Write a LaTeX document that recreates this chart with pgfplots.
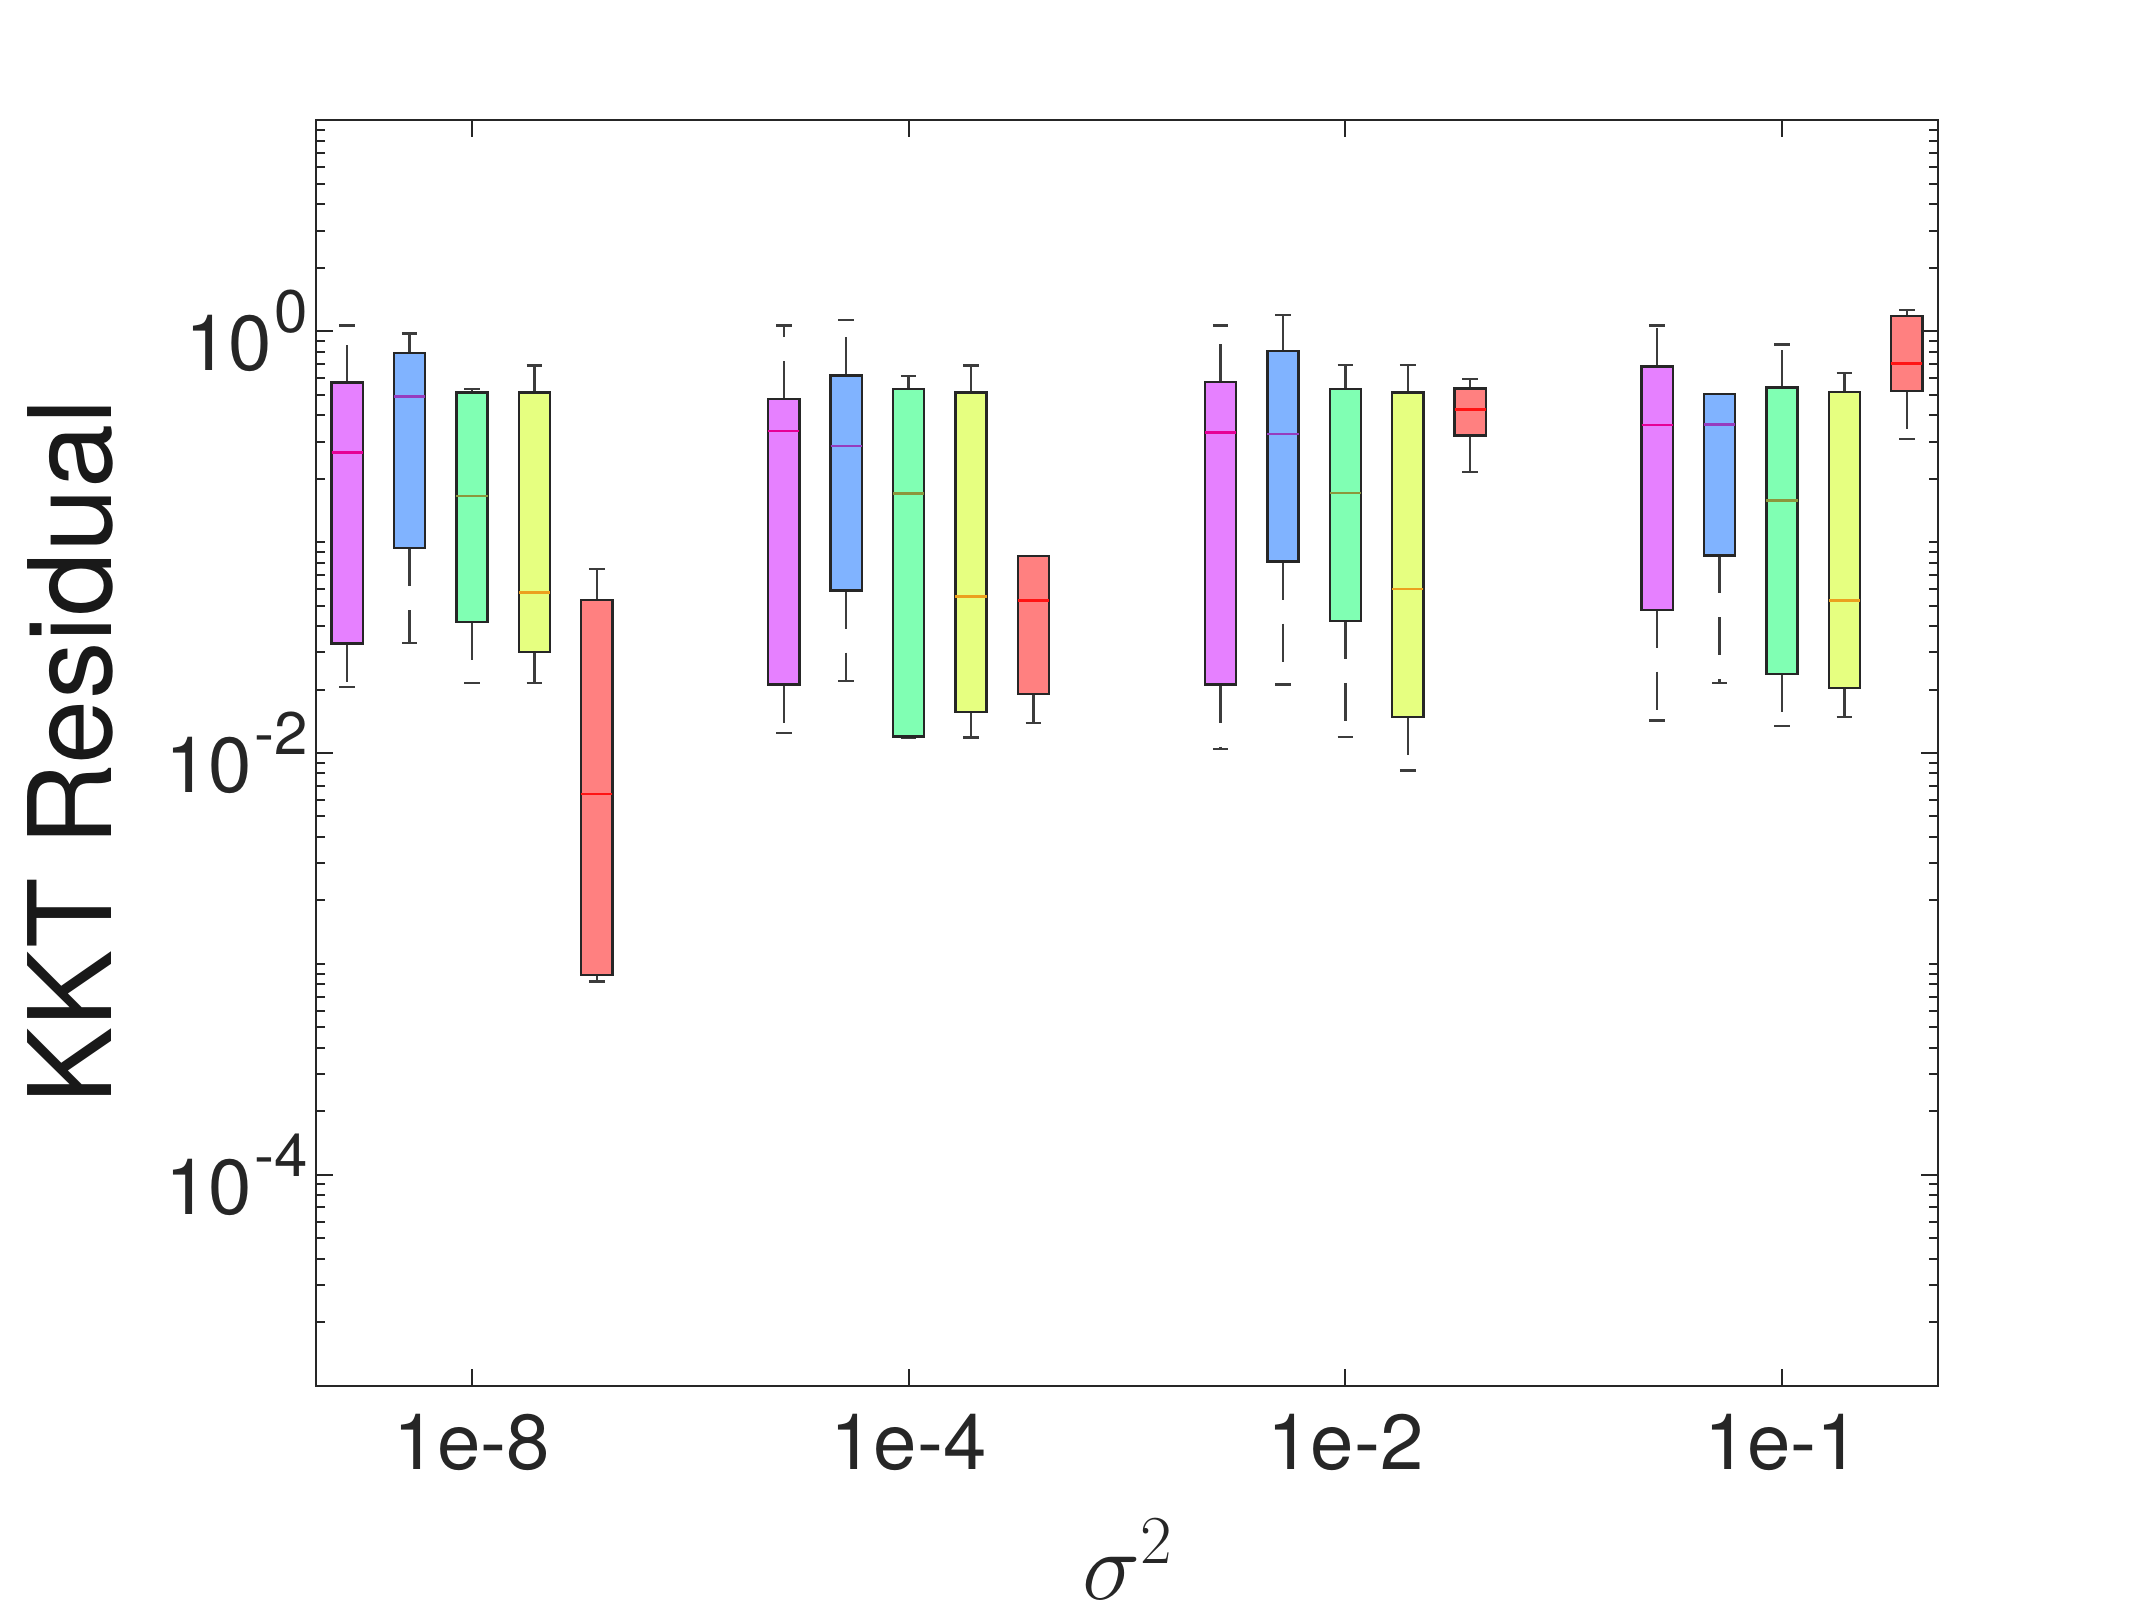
\RequirePackage{fix-cm}
\documentclass[border=0pt]{standalone}
\usepackage{pgfplots}
\pgfplotsset{compat=1.18}
\usepgfplotslibrary{statistics}
\usepackage{fontspec}
\setmainfont{TeX Gyre Heros}
\definecolor{axisgray}{RGB}{38,38,38}
\definecolor{c1}{RGB}{230,128,255}
\definecolor{c2}{RGB}{128,179,255}
\definecolor{c3}{RGB}{128,255,179}
\definecolor{c4}{RGB}{230,255,128}
\definecolor{c5}{RGB}{255,128,128}
\definecolor{m1}{RGB}{230,0,150}
\definecolor{m2}{RGB}{150,60,190}
\definecolor{m3}{RGB}{140,150,60}
\definecolor{m4}{RGB}{235,160,30}
\definecolor{m5}{RGB}{255,20,20}
\newcommand{\sups}[1]{\hspace{0.6pt}\raisebox{9.5pt}{\fontsize{15}{17}\selectfont #1}}
\pgfplotsset{
  boxplot/draw/lower whisker/.code={%
    \draw[/pgfplots/boxplot/every whisker/.try, dash pattern=on 9.5pt off 6pt]
      (boxplot cs:\pgfplotsboxplotvalue{lower quartile}) -- (boxplot cs:\pgfplotsboxplotvalue{lower whisker});
    \draw[/pgfplots/boxplot/every whisker/.try, solid]
      (boxplot whisker cs:\pgfplotsboxplotvalue{lower whisker},0) -- (boxplot whisker cs:\pgfplotsboxplotvalue{lower whisker},1);
  },
  boxplot/draw/upper whisker/.code={%
    \draw[/pgfplots/boxplot/every whisker/.try, dash pattern=on 9.5pt off 6pt]
      (boxplot cs:\pgfplotsboxplotvalue{upper quartile}) -- (boxplot cs:\pgfplotsboxplotvalue{upper whisker});
    \draw[/pgfplots/boxplot/every whisker/.try, solid]
      (boxplot whisker cs:\pgfplotsboxplotvalue{upper whisker},0) -- (boxplot whisker cs:\pgfplotsboxplotvalue{upper whisker},1);
  },
  bxbase/.style={draw=axisgray, line width=0.6pt, solid, mark=none,
    boxplot/draw direction=y,
    boxplot/every whisker/.style={draw=axisgray!90, line width=0.6pt, fill=none}},
  bx1/.style={bxbase, fill=c1, boxplot/every median/.style={draw=m1, line width=0.6pt}},
  bx2/.style={bxbase, fill=c2, boxplot/every median/.style={draw=m2, line width=0.6pt}},
  bx3/.style={bxbase, fill=c3, boxplot/every median/.style={draw=m3, line width=0.6pt}},
  bx4/.style={bxbase, fill=c4, boxplot/every median/.style={draw=m4, line width=0.6pt}},
  bx5/.style={bxbase, fill=c5, boxplot/every median/.style={draw=m5, line width=0.7pt}},
}
\newcommand{\bx}[7]{\addplot[bx#7, boxplot prepared={draw position=#1, lower whisker=#2, lower quartile=#3, median=#4, upper quartile=#5, upper whisker=#6, box extend=0.0714, whisker extend=0.0357}] coordinates {};}
\begin{document}
\begin{tikzpicture}
\begin{axis}[
  scale only axis, width=405.5pt, height=316.3pt,
  ymode=log, ymin=1e-5, ymax=10,
  xmin=0.642857, xmax=4.357143,
  boxplot/draw direction=y,
  xtick={1,2,3,4}, xticklabels={1e-8,1e-4,1e-2,1e-1},
  ytick={1e-4,1e-2,1}, yticklabels={10\sups{-4},10\sups{-2},10\sups{0}},
  minor ytick={2e-5,3e-5,4e-5,5e-5,6e-5,7e-5,8e-5,9e-5,
    2e-4,3e-4,4e-4,5e-4,6e-4,7e-4,8e-4,9e-4,1e-3,
    2e-3,3e-3,4e-3,5e-3,6e-3,7e-3,8e-3,9e-3,
    2e-2,3e-2,4e-2,5e-2,6e-2,7e-2,8e-2,9e-2,1e-1,
    2e-1,3e-1,4e-1,5e-1,6e-1,7e-1,8e-1,9e-1,
    2,3,4,5,6,7,8,9},
  tick align=inside, major tick length=4.2pt, minor tick length=2.2pt,
  axis line style={draw=axisgray, line width=0.5pt},
  every tick/.append style={draw=axisgray, line width=0.5pt},
  every minor tick/.append style={draw=axisgray, line width=0.5pt},
  tick label style={font=\fontsize{19.5}{22}\selectfont, text=axisgray},
  xticklabel style={yshift=-3.5pt},
  yticklabel style={xshift=1.5pt},
  xlabel={$\sigma^2$},
  xlabel style={at={(axis description cs:0.5008,-0.1691)}, anchor=base, font=\fontsize{24.5}{28}\selectfont, text=axisgray},
  ylabel={KKT Residual},
  ylabel style={at={(axis description cs:-0.1517,0.501)}, anchor=center, font=\fontsize{28.8}{34}\selectfont, text=black!90},
  clip=false,
]
% group 1: 1e-8
\bx{0.714286}{0.0205}{0.033}{0.266}{0.571}{1.065}{1}
\bx{0.857143}{0.0333}{0.0937}{0.491}{0.791}{0.976}{2}
\bx{1.000000}{0.0215}{0.0419}{0.166}{0.513}{0.531}{3}
\bx{1.142857}{0.0215}{0.0302}{0.0578}{0.513}{0.687}{4}
\bx{1.285714}{0.000825}{0.000888}{0.00639}{0.0532}{0.0745}{5}
% group 2: 1e-4
\bx{1.714286}{0.01245}{0.0211}{0.337}{0.477}{1.065}{1}
\bx{1.857143}{0.0219}{0.0589}{0.286}{0.617}{1.13}{2}
\bx{2.000000}{0.0118}{0.01198}{0.170}{0.531}{0.614}{3}
\bx{2.142857}{0.01186}{0.0156}{0.0553}{0.513}{0.687}{4}
\bx{2.285714}{0.01386}{0.0191}{0.0529}{0.0858}{0.0858}{5}
% group 3: 1e-2
\bx{2.714286}{0.01045}{0.0211}{0.331}{0.574}{1.065}{1}
\bx{2.857143}{0.0211}{0.0809}{0.325}{0.807}{1.198}{2}
\bx{3.000000}{0.01192}{0.0423}{0.1706}{0.531}{0.694}{3}
\bx{3.142857}{0.00827}{0.01484}{0.0601}{0.513}{0.694}{4}
\bx{3.285714}{0.2144}{0.320}{0.426}{0.536}{0.594}{5}
% group 4: 1e-1
\bx{3.714286}{0.01427}{0.0478}{0.360}{0.681}{1.065}{1}
\bx{3.857143}{0.0215}{0.0865}{0.361}{0.505}{0.505}{2}
\bx{4.000000}{0.01346}{0.0237}{0.1578}{0.541}{0.864}{3}
\bx{4.142857}{0.01477}{0.0203}{0.0529}{0.515}{0.636}{4}
\bx{4.285714}{0.309}{0.5205}{0.7006}{1.18}{1.264}{5}
\coordinate (bl) at (rel axis cs:0,0);
\coordinate (tr) at (rel axis cs:1,1);
\end{axis}
\pgfresetboundingbox
\path[use as bounding box] ([shift={(-79.0pt,-57.85pt)}]bl) rectangle ([shift={(51.75pt,30.1pt)}]tr);
\end{tikzpicture}
\end{document}
